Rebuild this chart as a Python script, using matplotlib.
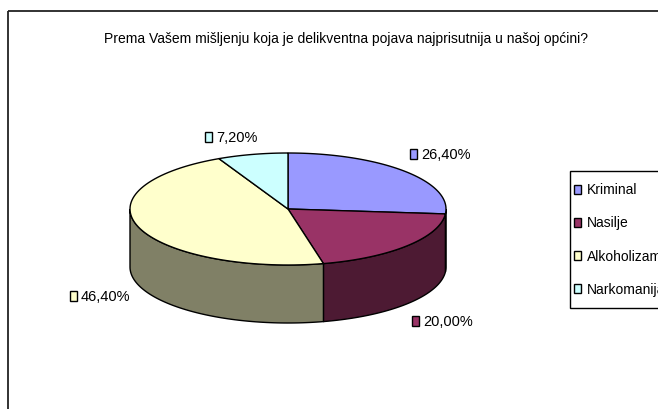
import numpy as np
import matplotlib
matplotlib.use("Agg")
import matplotlib.pyplot as plt
from matplotlib.patches import Polygon, Rectangle

plt.rcParams["font.family"] = ["Liberation Sans", "DejaVu Sans"]

TITLE = "Prema Vašem mišljenju koja je delikventna pojava najprisutnija u našoj općini?"
categories = ["Kriminal", "Nasilje", "Alkoholizam", "Narkomanija"]
shares = [26.40, 20.00, 46.40, 7.20]
top_colors = ["#9999FF", "#993366", "#FFFFCC", "#CCFFFF"]
side_colors = ["#4D4D80", "#4D1A33", "#808066", "#668080"]
# label anchors (pixel coords, left edge of marker square, vertical centre)
label_pos = [(410, 155), (412, 322), (70, 297), (205, 138)]

# pie geometry in pixels
CX, CY, RX, RY, DEPTH = 288, 210, 158, 56, 58

fig = plt.figure(figsize=(6.58, 4.10), dpi=100)
ax = fig.add_axes([0, 0, 1, 1])
ax.set_xlim(0, 658)
ax.set_ylim(410, 0)
ax.axis("off")

# chart frame (runs off the right / bottom edge like the source)
ax.add_patch(Rectangle((8, 12), 700, 450, fill=False, ec="#222222", lw=1.3))

ax.text(346, 39, TITLE, ha="center", va="center", fontsize=10)


def arc(t0, t1, dy=0, n=80):
    t = np.radians(np.linspace(t0, t1, n))
    return np.column_stack([CX + RX * np.cos(t), CY - RY * np.sin(t) + dy])


# slice angle ranges, clockwise from 12 o'clock
bounds = 90 - 360 * np.concatenate([[0], np.cumsum(shares)]) / 100.0
slices = list(zip(bounds[:-1], bounds[1:]))

# side walls (front half only: angles in [-180, 0])
for (a0, a1), col in zip(slices, side_colors):
    lo, hi = max(min(a0, a1), -180), min(max(a0, a1), 0)
    if hi - lo <= 0.01:
        continue
    top = arc(hi, lo)
    bot = arc(lo, hi, dy=DEPTH)
    ax.add_patch(Polygon(np.vstack([top, bot]), closed=True, fc=col, ec="black", lw=1.0))

# top faces
for (a0, a1), col in zip(slices, top_colors):
    pts = np.vstack([[CX, CY], arc(a0, a1)])
    ax.add_patch(Polygon(pts, closed=True, fc=col, ec="black", lw=1.0))

# data labels
for (x, y), val, col in zip(label_pos, shares, top_colors):
    ax.add_patch(Rectangle((x, y - 5), 7, 10, fc=col, ec="black", lw=1.0))
    ax.text(x + 11, y, f"{val:.2f}%".replace(".", ","), ha="left", va="center", fontsize=10.5)

# legend
ax.add_patch(Rectangle((570, 172), 200, 137, fc="white", ec="black", lw=1.0))
for i, (name, col) in enumerate(zip(categories, top_colors)):
    y = 190 + i * 33.3
    ax.add_patch(Rectangle((574, y - 4.5), 7, 9, fc=col, ec="black", lw=1.0))
    ax.text(587, y, name, ha="left", va="center", fontsize=10)

fig.savefig("out.png", dpi=100)
